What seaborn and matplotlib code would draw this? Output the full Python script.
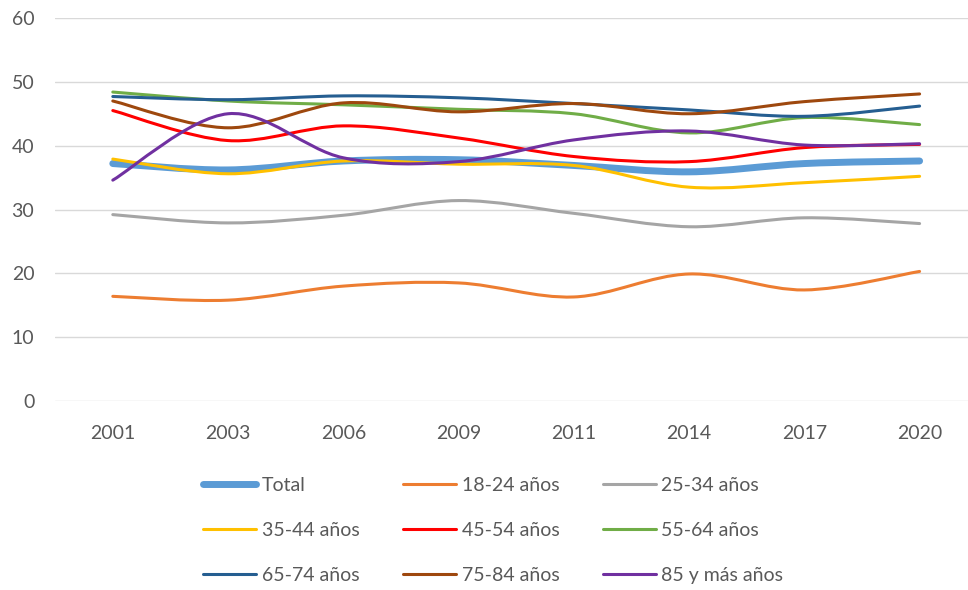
import numpy as np
import pandas as pd
import seaborn as sns
import matplotlib.pyplot as plt
from matplotlib.path import Path
from matplotlib.patches import PathPatch
from matplotlib.lines import Line2D

# values
years = ['2001', '2003', '2006', '2009', '2011', '2014', '2017', '2020']
total = [37.2, 36.2, 37.6, 37.8, 36.9, 35.9, 37.2, 37.6]
age_18_24 = [16.4, 15.8, 18.0, 18.5, 16.3, 19.9, 17.4, 20.3]
age_25_34 = [29.2, 27.9, 29.1, 31.4, 29.4, 27.3, 28.7, 27.8]
age_35_44 = [37.9, 35.6, 37.6, 37.1, 36.9, 33.5, 34.2, 35.2]
age_45_54 = [45.5, 40.8, 43.1, 41.2, 38.3, 37.5, 39.7, 40.2]
age_55_64 = [48.4, 47.0, 46.4, 45.7, 45.0, 42.0, 44.4, 43.3]
age_65_74 = [47.7, 47.2, 47.8, 47.5, 46.6, 45.6, 44.6, 46.2]
age_75_84 = [47.0, 42.8, 46.7, 45.3, 46.6, 45.0, 46.9, 48.1]
age_85_up = [34.6, 45.0, 38.1, 37.5, 40.9, 42.3, 40.1, 40.3]

series_names = ['Total', '18-24 años', '25-34 años', '35-44 años', '45-54 años',
                '55-64 años', '65-74 años', '75-84 años', '85 y más años']
series_values = [total, age_18_24, age_25_34, age_35_44, age_45_54,
                 age_55_64, age_65_74, age_75_84, age_85_up]
colors = ['#5B9BD5', '#ED7D31', '#A5A5A5', '#FFC000', '#FF0000',
          '#70AD47', '#255E91', '#9E480E', '#7030A0']
widths = [5.0, 2.2, 2.2, 2.2, 2.2, 2.2, 2.2, 2.2, 2.2]


def smooth_path(xs, ys):
    """Excel-style smoothed line: cubic Bezier through every point."""
    pts = np.column_stack([xs, ys]).astype(float)
    n = len(pts)
    verts = [pts[0]]
    codes = [Path.MOVETO]
    for i in range(n - 1):
        p0 = pts[max(i - 1, 0)]
        p1 = pts[i]
        p2 = pts[i + 1]
        p3 = pts[min(i + 2, n - 1)]
        verts += [p1 + (p2 - p0) / 6, p2 - (p3 - p1) / 6, p2]
        codes += [Path.CURVE4] * 3
    return Path(verts, codes)


rows = []
for name, vals in zip(series_names, series_values):
    for i, v in enumerate(vals):
        rows.append({'pos': i, 'Serie': name, 'Valor': v})
df = pd.DataFrame(rows)

sns.set_theme(style='white')
plt.rcParams['font.family'] = ['Lato', 'DejaVu Sans']

fig = plt.figure(figsize=(9.68, 5.9), dpi=100)
ax = fig.add_axes([0.057, 0.3203, 0.943, 0.6492])

# invisible seaborn pass to register the data on the axes
sns.lineplot(data=df, x='pos', y='Valor', hue='Serie', palette=colors,
             linewidth=0, legend=False, ax=ax)

handles = []
for k, (name, vals) in enumerate(zip(series_names, series_values)):
    path = smooth_path(np.arange(len(vals)), vals)
    ax.add_patch(PathPatch(path, fill=False, edgecolor=colors[k], lw=widths[k],
                           capstyle='round', joinstyle='round', zorder=3 + k))
    handles.append(Line2D([], [], color=colors[k], lw=widths[k],
                          solid_capstyle='round', label=name))

ax.set_xlim(-0.5, 7.42)
ax.set_ylim(0, 60)
ax.set_yticks(range(0, 61, 10))
ax.set_xticks(range(len(years)))
ax.set_xticklabels(years)
ax.set_xlabel('')
ax.set_ylabel('')
ax.grid(axis='y', color='#D9D9D9', lw=1.0)
ax.set_axisbelow(True)
for s in ax.spines.values():
    s.set_visible(False)
ax.tick_params(axis='both', length=0, labelsize=14, labelcolor='#595959')
ax.tick_params(axis='x', pad=17)
ax.tick_params(axis='y', pad=15)

# legend is filled column by column, so reorder to read row by row
order = [0, 3, 6, 1, 4, 7, 2, 5, 8]
fig.legend(handles=[handles[i] for i in order], loc='upper left',
           bbox_to_anchor=(0.192, 0.222), ncol=3, frameon=False, fontsize=14,
           labelcolor='#595959', handlelength=2.7, handletextpad=0.3,
           columnspacing=2.25, labelspacing=1.45)

fig.savefig('out.png', dpi=100)
